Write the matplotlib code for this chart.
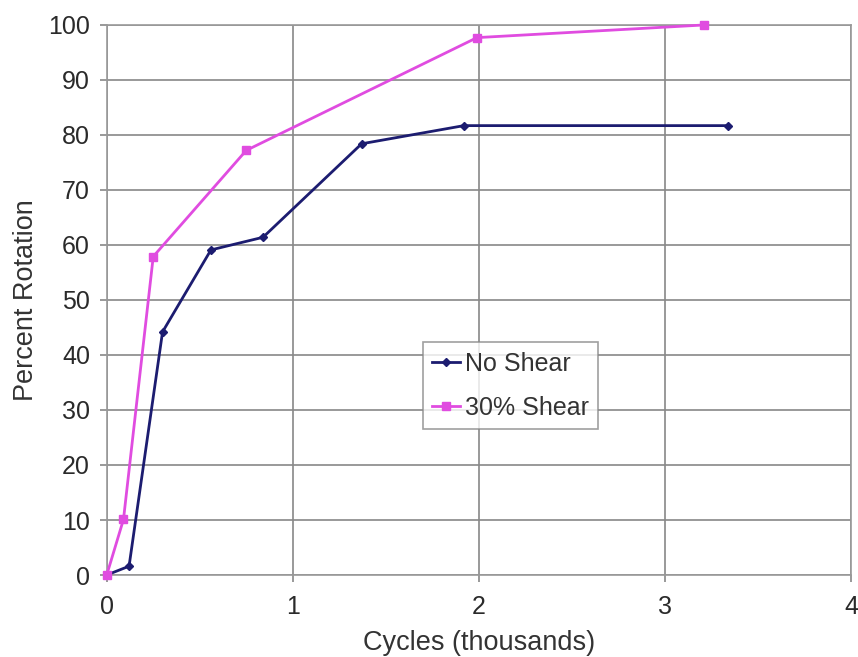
import matplotlib
matplotlib.use("Agg")
import matplotlib.pyplot as plt

no_shear_x = [0, 0.12, 0.30, 0.56, 0.84, 1.37, 1.92, 3.34]
no_shear_y = [0, 1.6, 44.2, 59.1, 61.4, 78.4, 81.7, 81.7]
shear_x = [0, 0.09, 0.25, 0.75, 1.99, 3.21]
shear_y = [0, 10.1, 57.9, 77.2, 97.7, 100]
x_ticks = [0, 1, 2, 3, 4]
y_ticks = list(range(0, 101, 10))

plt.rcParams['font.family'] = ['Liberation Sans', 'DejaVu Sans']

fig = plt.figure(figsize=(8.58, 6.57), dpi=100)
ax = fig.add_axes([0.1244, 0.1248, 0.9918 - 0.1244, 0.962 - 0.1248])

ax.plot(no_shear_x, no_shear_y, color='#1c1c70', lw=2, marker='D', ms=4.5, label='No Shear', zorder=3, clip_on=False)
ax.plot(shear_x, shear_y, color='#e04ce0', lw=2, marker='s', ms=5.5, label='30% Shear', zorder=3, clip_on=False)

ax.set_xlim(0, 4)
ax.set_ylim(0, 100)
ax.set_xticks(x_ticks)
ax.set_yticks(y_ticks)
ax.grid(True, color='#888888', lw=1.2)
for s in ax.spines.values():
    s.set_color('#999999')
    s.set_linewidth(1.2)
ax.tick_params(axis='both', colors='#888888', labelcolor='#2a2a2a', labelsize=18, length=5, width=1.2)
ax.tick_params(axis='x', pad=9.5)
ax.tick_params(axis='y', pad=7)
ax.set_xlabel('Cycles (thousands)', fontsize=19.5, color='#333333')
ax.set_ylabel('Percent Rotation', fontsize=19.5, color='#333333')
ax.xaxis.set_label_coords(0.5, -0.1)
ax.yaxis.set_label_coords(-0.0905, 0.5)

leg = ax.legend(loc='upper left', bbox_to_anchor=(0.4247, 0.4236), fontsize=18, frameon=True,
                fancybox=False, edgecolor='#888888', handlelength=1.1, handletextpad=0.2,
                borderpad=0.38, labelspacing=0.8, borderaxespad=0)
leg.get_frame().set_linewidth(1.2)
for t in leg.get_texts():
    t.set_color('#333333')

fig.savefig('out.png', dpi=100)
